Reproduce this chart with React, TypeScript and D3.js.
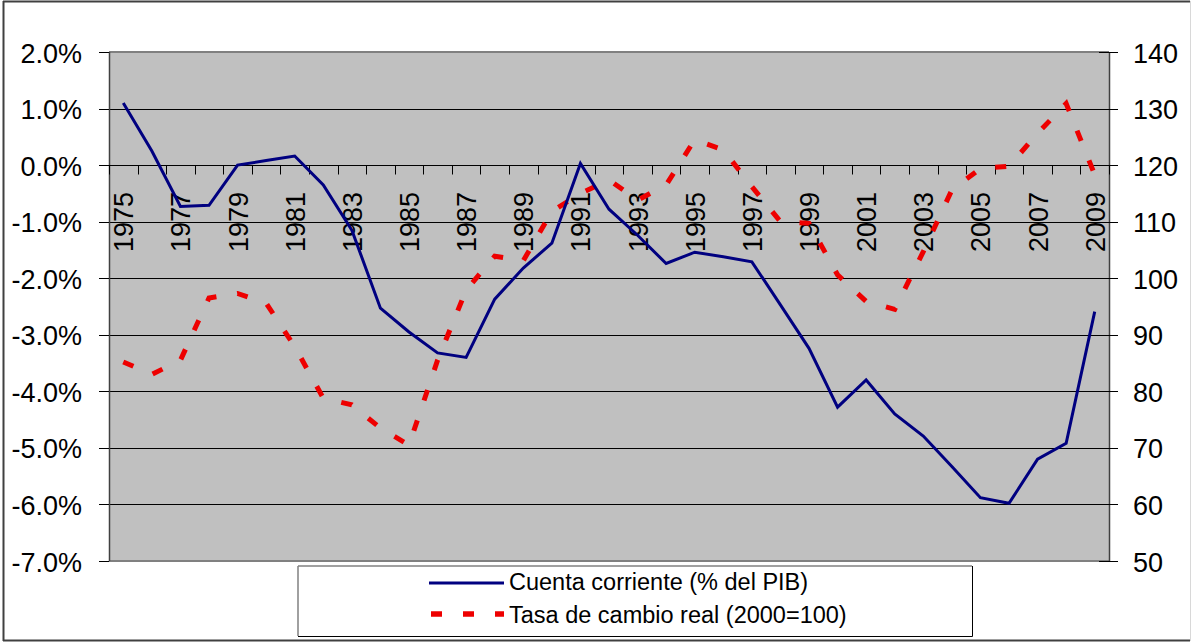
import React from "react";
import * as d3 from "d3";

// categories and series
const years = [
  1975, 1976, 1977, 1978, 1979, 1980, 1981, 1982, 1983, 1984, 1985, 1986,
  1987, 1988, 1989, 1990, 1991, 1992, 1993, 1994, 1995, 1996, 1997, 1998,
  1999, 2000, 2001, 2002, 2003, 2004, 2005, 2006, 2007, 2008, 2009,
];

// Cuenta corriente (% del PIB)
const cuentaCorriente = [
  1.1, 0.25, -0.73, -0.71, 0.0, 0.08, 0.16, -0.35, -1.15, -2.53, -2.95, -3.32,
  -3.4, -2.37, -1.82, -1.38, 0.03, -0.78, -1.24, -1.74, -1.54, -1.62, -1.71,
  -2.47, -3.24, -4.28, -3.8, -4.4, -4.79, -5.33, -5.88, -5.98, -5.2, -4.92,
  -2.59,
];

// Tasa de cambio real (2000=100)
const tasaCambio = [
  85.2, 83, 85.5, 96.5, 97.3, 95.6, 87.9, 78.8, 77.6, 73.5, 70.5, 85.5, 97.9,
  103.9, 103.1, 111.8, 115, 117.4, 113.8, 116.5, 124.5, 122.7, 116.2, 110,
  109.7, 100.6, 95.9, 94.5, 104.7, 115.6, 119.4, 119.8, 125.6, 130.9, 118.3,
];

const leftTicks = [2, 1, 0, -1, -2, -3, -4, -5, -6, -7];
const rightTicks = [140, 130, 120, 110, 100, 90, 80, 70, 60, 50];
const labelYears = years.filter((y) => (y - 1975) % 2 === 0);

const legendLabels = ["Cuenta corriente (% del PIB)", "Tasa de cambio real (2000=100)"];

const W = 1192;
const H = 642;
const plot = { left: 109, right: 1109, top: 52, bottom: 561 };
const font = "'Liberation Sans', Arial, sans-serif";

export default function App() {
  const x = d3
    .scaleBand<number>()
    .domain(years)
    .range([plot.left, plot.right])
    .padding(0);
  const cx = (yr: number) => (x(yr) as number) + x.bandwidth() / 2;
  const yL = d3.scaleLinear().domain([-7, 2]).range([plot.bottom, plot.top]);
  const yR = d3.scaleLinear().domain([50, 140]).range([plot.bottom, plot.top]);

  const lineCC = d3
    .line<number>()
    .x((_, i) => cx(years[i]))
    .y((d) => yL(d));
  const lineTC = d3
    .line<number>()
    .x((_, i) => cx(years[i]))
    .y((d) => yR(d));

  const axisY = Math.round(yL(0)) + 0.5;
  const boundaries = d3.range(years.length + 1).map((i) => plot.left + i * x.bandwidth());

  return (
    <div style={{ position: "absolute", left: 0, top: 0 }}>
      <svg width={W} height={H} style={{ display: "block", fontFamily: font }}>
        <rect x={0} y={0} width={W} height={H} fill="#fff" />
        {/* outer frame */}
        <line x1={3} y1={1.5} x2={1190} y2={1.5} stroke="#404040" strokeWidth={2} />
        <line x1={3.5} y1={1} x2={3.5} y2={641} stroke="#404040" strokeWidth={2} />
        <line x1={3} y1={640.5} x2={1190} y2={640.5} stroke="#404040" strokeWidth={2} />
        <line x1={1190.5} y1={1} x2={1190.5} y2={641} stroke="#d8d8d8" strokeWidth={1} />

        {/* plot area */}
        <rect
          x={plot.left}
          y={plot.top}
          width={plot.right - plot.left}
          height={plot.bottom - plot.top}
          fill="#c0c0c0"
        />
        <line x1={plot.left} x2={plot.right} y1={plot.top} y2={plot.top} stroke="#808080" strokeWidth={2} />
        <line x1={plot.left} x2={plot.right} y1={plot.bottom} y2={plot.bottom} stroke="#808080" strokeWidth={2} />

        {/* gridlines */}
        {leftTicks
          .filter((t) => t !== 2 && t !== -7)
          .map((t) => (
            <line
              key={"g" + t}
              x1={plot.left}
              x2={plot.right}
              y1={Math.round(yL(t)) + 0.5}
              y2={Math.round(yL(t)) + 0.5}
              stroke="#000"
              strokeWidth={1}
            />
          ))}

        {/* left axis */}
        <line x1={plot.left + 0.5} x2={plot.left + 0.5} y1={plot.top} y2={plot.bottom} stroke="#404040" strokeWidth={1.5} />
        {leftTicks.map((t) => (
          <g key={"l" + t}>
            <line x1={99} x2={plot.left} y1={Math.round(yL(t)) + 0.5} y2={Math.round(yL(t)) + 0.5} stroke="#000" />
            <text x={82} y={yL(t) + 10.5} fontSize={27} textAnchor="end" fill="#000">
              {t.toFixed(1) + "%"}
            </text>
          </g>
        ))}

        {/* right axis */}
        <line x1={plot.right + 0.5} x2={plot.right + 0.5} y1={plot.top} y2={plot.bottom} stroke="#404040" strokeWidth={1.5} />
        {rightTicks.map((t) => (
          <g key={"r" + t}>
            <line x1={1099} x2={1118} y1={Math.round(yR(t)) + 0.5} y2={Math.round(yR(t)) + 0.5} stroke="#000" />
            <text x={1133} y={yR(t) + 10.5} fontSize={27} fill="#000">
              {t}
            </text>
          </g>
        ))}

        {/* category axis at 0% */}
        <line x1={plot.left} x2={plot.right} y1={axisY} y2={axisY} stroke="#000" />
        {boundaries.map((bx, i) => (
          <line key={"t" + i} x1={Math.round(bx) + 0.5} x2={Math.round(bx) + 0.5} y1={axisY} y2={axisY + 9} stroke="#000" />
        ))}
        {labelYears.map((yr) => (
          <text
            key={"x" + yr}
            transform={`translate(${cx(yr) + 10},192) rotate(-90)`}
            fontSize={27}
            textAnchor="end"
            fill="#000"
          >
            {yr}
          </text>
        ))}

        {/* series */}
        <path
          d={lineTC(tasaCambio) || ""}
          fill="none"
          stroke="#ee0000"
          strokeWidth={5}
          strokeDasharray="11,21"
        />
        <path d={lineCC(cuentaCorriente) || ""} fill="none" stroke="#000080" strokeWidth={3} strokeLinejoin="miter" />

        {/* legend */}
        <rect x={298} y={566} width={674} height={70} fill="#fff" />
        <line x1={298} x2={972} y1={566} y2={566} stroke="#808080" strokeWidth={1.5} />
        <line x1={298} x2={298} y1={566} y2={636} stroke="#808080" strokeWidth={1.5} />
        <line x1={298} x2={972.5} y1={636.5} y2={636.5} stroke="#000" />
        <line x1={972.5} x2={972.5} y1={566} y2={636.5} stroke="#000" />
        <line x1={429} x2={504} y1={583} y2={583} stroke="#000080" strokeWidth={3} />
        <text x={509} y={590} fontSize={23.5} fill="#000">
          {legendLabels[0]}
        </text>
        <line x1={431} x2={504} y1={614} y2={614} stroke="#ee0000" strokeWidth={5.5} strokeDasharray="11,21" />
        <text x={509} y={623} fontSize={23.5} fill="#000">
          {legendLabels[1]}
        </text>
      </svg>
    </div>
  );
}
